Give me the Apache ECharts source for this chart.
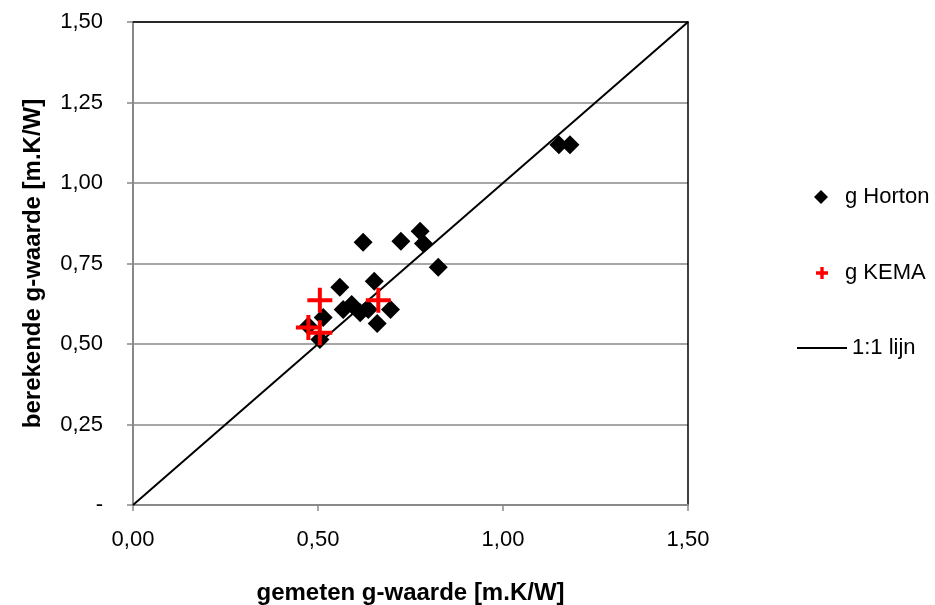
<!DOCTYPE html>
<html>
<head>
<meta charset="utf-8">
<script src="https://cdn.jsdelivr.net/npm/echarts@6/dist/echarts.min.js"></script>
<style>
  html, body { margin: 0; padding: 0; background: #fff; }
  #chart { width: 935px; height: 605px; }
</style>
</head>
<body>
<div id="chart"></div>
<script>
// Gemeten (x) en berekende (y) g-waarden
const hortonX = [1.151, 1.181, 0.622, 0.724, 0.776, 0.785, 0.825, 0.559, 0.652, 0.591, 0.568, 0.614, 0.636, 0.696, 0.660, 0.514, 0.505, 0.474];
const hortonY = [1.119, 1.119, 0.816, 0.819, 0.850, 0.812, 0.738, 0.676, 0.695, 0.623, 0.607, 0.597, 0.607, 0.607, 0.564, 0.582, 0.514, 0.556];
const kemaX = [0.505, 0.663, 0.474, 0.505];
const kemaY = [0.636, 0.636, 0.551, 0.535];
const lijnX = [0, 1.5];
const lijnY = [0, 1.5];

const plusPath = 'path://M10.5,0h4v10.5h10.5v4h-10.5v10.5h-4v-10.5h-10.5v-4h10.5z';
const plusLegend = 'path://M9,0h7v9h9v7h-9v9h-7v-9h-9v-7h9z';

function komma(v) {
    return v.toFixed(2).replace('.', ',');
}

document.addEventListener('DOMContentLoaded', function () {
    var myChart = echarts.init(document.getElementById('chart'));

    var grijs = '#898989';
    var font = 'Liberation Sans, Arial, sans-serif';

    var option = {
        animation: false,
        textStyle: { fontFamily: font },
        grid: { left: 133, right: 247, top: 22, bottom: 100, outerBoundsMode: 'none', containLabel: false },
        xAxis: [
            {
                type: 'value', min: 0, max: 1.5, interval: 0.5,
                name: 'gemeten g-waarde [m.K/W]',
                nameLocation: 'middle', nameGap: 76,
                nameTextStyle: { fontSize: 24, fontWeight: 'bold', color: '#000', fontFamily: font },
                axisLine: { onZero: false, lineStyle: { color: grijs, width: 2 } },
                axisTick: { show: true, length: 6, lineStyle: { color: grijs, width: 1.5 } },
                axisLabel: { fontSize: 22, color: '#000', margin: 24, formatter: komma },
                splitLine: { show: false }
            },
            {
                type: 'value', min: 0, max: 1.5, position: 'top',
                axisLine: { show: true, onZero: false, lineStyle: { color: '#000', width: 1.5 } },
                axisTick: { show: false }, axisLabel: { show: false }, splitLine: { show: false }
            }
        ],
        yAxis: [
            {
                type: 'value', min: 0, max: 1.5, interval: 0.25,
                name: 'berekende g-waarde [m.K/W]',
                nameLocation: 'middle', nameGap: 88,
                nameTextStyle: { fontSize: 24, fontWeight: 'bold', color: '#000', fontFamily: font },
                axisLine: { show: true, onZero: false, lineStyle: { color: grijs, width: 2 } },
                axisTick: { show: true, length: 6, lineStyle: { color: grijs, width: 1.5 } },
                axisLabel: {
                    fontSize: 22, color: '#000', margin: 30,
                    formatter: function (v) { return v === 0 ? '-' : komma(v); }
                },
                splitLine: { show: true, lineStyle: { color: grijs, width: 1.5 } }
            },
            {
                type: 'value', min: 0, max: 1.5, position: 'right',
                axisLine: { show: true, onZero: false, lineStyle: { color: '#000', width: 1.5 } },
                axisTick: { show: false }, axisLabel: { show: false }, splitLine: { show: false }
            }
        ],
        legend: [
            {
                data: ['g Horton'], orient: 'vertical', left: 809, top: 181,
                itemWidth: 14, itemHeight: 14,
                textStyle: { fontSize: 22, color: '#000', padding: [0, 0, 0, 12] }
            },
            {
                data: [{ name: 'g KEMA', icon: plusLegend }], orient: 'vertical', left: 811, top: 257,
                itemWidth: 12, itemHeight: 12,
                textStyle: { fontSize: 22, color: '#000', padding: [0, 0, 0, 12] }
            },
            {
                data: [{ name: '1:1 lijn', icon: 'rect' }], orient: 'vertical', left: 792, top: 332,
                itemWidth: 50, itemHeight: 2,
                textStyle: { fontSize: 22, color: '#000', padding: [0, 0, 0, 0] }
            }
        ],
        series: [
            {
                name: 'g Horton', type: 'scatter', symbol: 'diamond', symbolSize: 19,
                itemStyle: { color: '#000', opacity: 1 }, z: 2,
                data: hortonX.map(function (x, i) { return [x, hortonY[i]]; })
            },
            {
                name: '1:1 lijn', type: 'line', symbol: 'none', z: 3,
                lineStyle: { color: '#000', width: 2 }, itemStyle: { color: '#000' },
                data: lijnX.map(function (x, i) { return [x, lijnY[i]]; })
            },
            {
                name: 'g KEMA', type: 'scatter', symbol: plusPath, symbolSize: 25,
                itemStyle: { color: '#ff0000', opacity: 1 }, z: 4,
                data: kemaX.map(function (x, i) { return [x, kemaY[i]]; })
            }
        ]
    };

    myChart.setOption(option);
});
</script>
</body>
</html>
